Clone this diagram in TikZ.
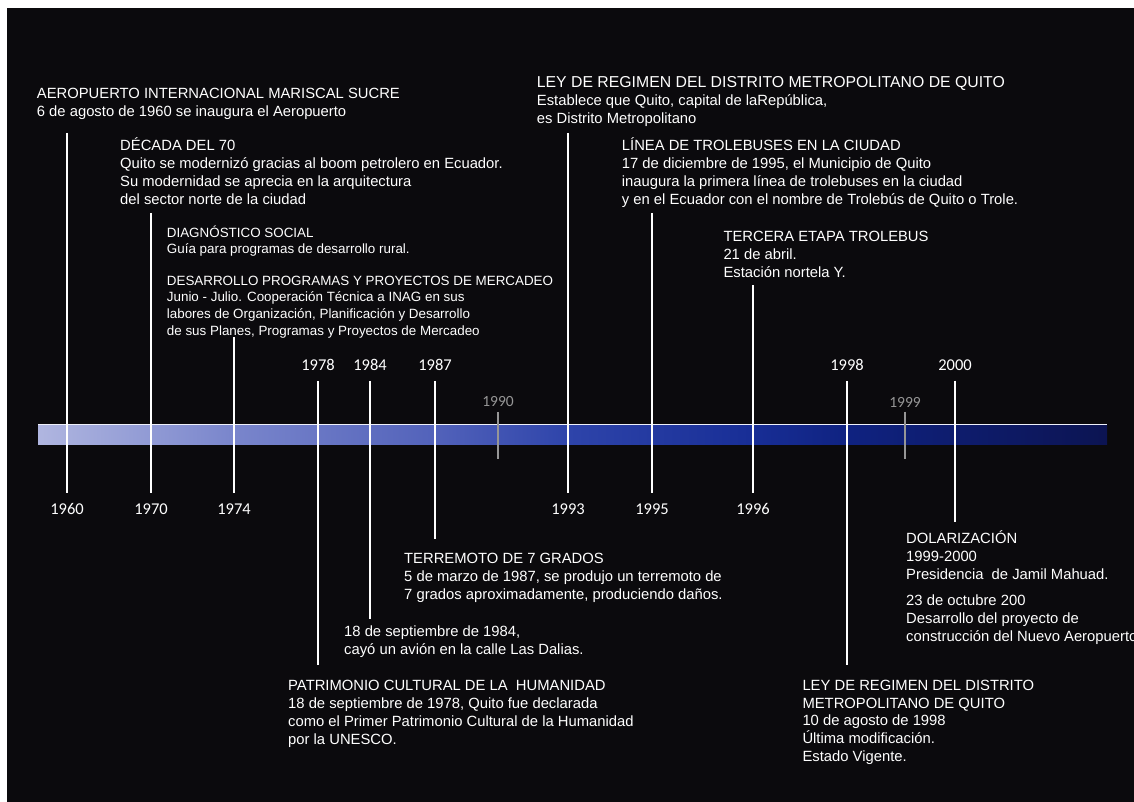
\documentclass[tikz,border=0pt]{standalone}
\usepackage{fontspec}
\setmainfont{Liberation Sans}
\newfontfamily\yearfont{Carlito}
\definecolor{bgblack}{RGB}{11,10,13}
\definecolor{minorgrey}{RGB}{150,150,150}
\definecolor{barA}{RGB}{176,182,224}
\definecolor{barB}{RGB}{122,134,204}
\definecolor{barC}{RGB}{82,98,186}
\definecolor{barD}{RGB}{46,68,170}
\definecolor{barE}{RGB}{24,46,150}
\definecolor{barF}{RGB}{15,34,128}
\definecolor{barG}{RGB}{12,20,82}
\pgfdeclarehorizontalshading{barshade}{100bp}{color(0bp)=(barA); color(25bp)=(barA); color(34bp)=(barB); color(43.6bp)=(barC); color(49.8bp)=(barD); color(58.3bp)=(barE); color(63bp)=(barF); color(75bp)=(barG); color(100bp)=(barG)}

\begin{document}
\begin{tikzpicture}[x=1pt,y=-1pt,
  event/.style={anchor=base west, inner sep=0, align=left, text=white,
    font=\fontsize{14.8}{17.9}\selectfont},
  smallevent/.style={event, font=\fontsize{13.4}{16.8}\selectfont},
  year/.style={inner sep=0, inner ysep=10, text=white,
    font=\yearfont\fontsize{16.5}{18}\selectfont},
  minor/.style={inner sep=0, inner ysep=4.5, text=minorgrey,
    font=\yearfont\fontsize{15.5}{17}\selectfont},
  yearline/.style={draw=white, line width=2},
  minorline/.style={draw=minorgrey, line width=1.5}]
\useasboundingbox (0,0) rectangle (1134,802);
\fill[white] (0,0) rectangle (1134,802);
\fill[bgblack] (7,8) rectangle (1134,802);

% timeline bar
\shade[shading=barshade] (38,424) rectangle (1107,444);
\draw[white!80!barA, line width=1.5] (38,424.5) -- (1107,424.5);

% years
\node[year] (y1960) at (67,509) {1960};
\node[year] (y1970) at (151,509) {1970};
\node[year] (y1974) at (234,509) {1974};
\node[year] (y1993) at (568,509) {1993};
\node[year] (y1995) at (652,509) {1995};
\node[year] (y1996) at (753,509) {1996};
\node[year] (y1978) at (318,365) {1978};
\node[year] (y1984) at (370,365) {1984};
\node[year] (y1987) at (435,365) {1987};
\node[year] (y1998) at (847,365) {1998};
\node[year] (y2000) at (955,365) {2000};
\node[minor] (y1990) at (498,402) {1990};
\node[minor] (y1999) at (905,402) {1999};

% line ends
\coordinate (t1960) at (67,133);
\coordinate (t1970) at (151,213);
\coordinate (t1974) at (234,337);
\coordinate (t1993) at (568,133);
\coordinate (t1995) at (652,213);
\coordinate (t1996) at (753,285);
\coordinate (b1978) at (318,665);
\coordinate (b1984) at (370,619);
\coordinate (b1987) at (435,539);
\coordinate (b1998) at (847,665);
\coordinate (b2000) at (955,522);
\coordinate (b1990) at (498,459);
\coordinate (b1999) at (905,459);

\draw[yearline] (t1960) -- (y1960);
\draw[yearline] (t1970) -- (y1970);
\draw[yearline] (t1974) -- (y1974);
\draw[yearline] (t1993) -- (y1993);
\draw[yearline] (t1995) -- (y1995);
\draw[yearline] (t1996) -- (y1996);
\draw[yearline] (y1978) -- (b1978);
\draw[yearline] (y1984) -- (b1984);
\draw[yearline] (y1987) -- (b1987);
\draw[yearline] (y1998) -- (b1998);
\draw[yearline] (y2000) -- (b2000);
\draw[minorline] (y1990) -- (b1990);
\draw[minorline] (y1999) -- (b1999);

% events (placed at the baseline of the last line)
\node[event] (e1960) at (36.7,116.5) {AEROPUERTO INTERNACIONAL MARISCAL SUCRE\\6 de agosto de 1960 se inaugura el Aeropuerto};
\node[event] (e1970) at (120,204.3) {DÉCADA DEL 70\\Quito se modernizó gracias al boom petrolero en Ecuador.\\Su modernidad se aprecia en la arquitectura\\del sector norte de la ciudad};
\node[smallevent] (diag) at (166.7,254) {DIAGNÓSTICO SOCIAL\\Guía para programas de desarrollo rural.};
\node[smallevent] (e1974) at (166.7,335.4) {DESARROLLO PROGRAMAS Y PROYECTOS DE MERCADEO\\Junio - Julio. Cooperación Técnica a INAG en sus\\labores de Organización, Planificación y Desarrollo\\de sus Planes, Programas y Proyectos de Mercadeo};
\node[event] (e1993) at (536.7,123.3) {{\fontsize{15.8}{17.9}\selectfont LEY DE REGIMEN DEL DISTRITO METROPOLITANO DE QUITO}\\Establece que Quito, capital de laRepública,\\es Distrito Metropolitano};
\node[event] (e1995) at (621.7,204.3) {LÍNEA DE TROLEBUSES EN LA CIUDAD\\17 de diciembre de 1995, el Municipio de Quito\\inaugura la primera línea de trolebuses en la ciudad\\y en el Ecuador con el nombre de Trolebús de Quito o Trole.};
\node[event] (e1996) at (723.3,277) {TERCERA ETAPA TROLEBUS\\21 de abril.\\Estación nortela Y.};
\node[event] (e1987) at (404,599) {TERREMOTO DE 7 GRADOS\\5 de marzo de 1987, se produjo un terremoto de\\7 grados aproximadamente, produciendo daños.};
\node[event] (e1984) at (344,654.3) {18 de septiembre de 1984,\\cayó un avión en la calle Las Dalias.};
\node[event] (e1978) at (288,744) {PATRIMONIO CULTURAL DE LA\ \ HUMANIDAD\\18 de septiembre de 1978, Quito fue declarada\\como el Primer Patrimonio Cultural de la Humanidad\\por la UNESCO.};
\node[event] (e2000) at (906,579.3) {DOLARIZACIÓN\\1999-2000\\Presidencia\ \ de Jamil Mahuad.};
\node[event] (aero) at (906,641.7) {23 de octubre 200\\Desarrollo del proyecto de\\construcción del Nuevo Aeropuerto};
\node[event] (e1998) at (802.3,761.7) {LEY DE REGIMEN DEL DISTRITO\\METROPOLITANO DE QUITO\\10 de agosto de 1998\\Última modificación.\\Estado Vigente.};
\end{tikzpicture}
\end{document}
